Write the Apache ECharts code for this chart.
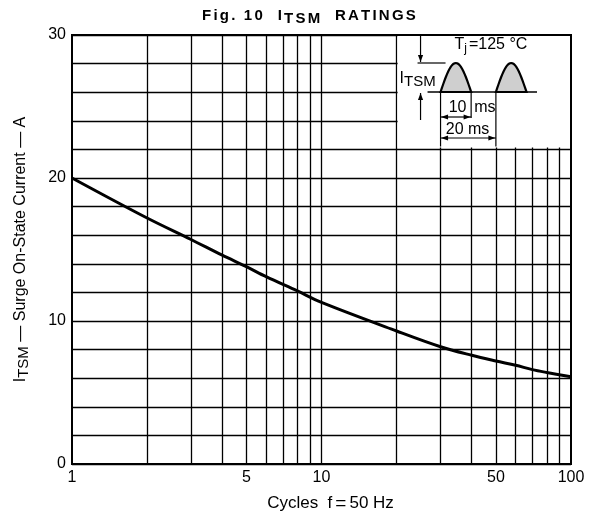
<!DOCTYPE html>
<html><head><meta charset="utf-8">
<script src="https://cdn.jsdelivr.net/npm/echarts@6/dist/echarts.min.js"></script>
<style>html,body{margin:0;padding:0;background:#fff}#c{width:598px;height:518px}</style>
</head><body><div id="c"></div>
<script>
// Data
const cycles  = [1, 2, 3, 4, 5, 6, 8, 10, 20, 30, 40, 50, 60, 70, 80, 100];
const current = [20, 17.2, 15.7, 14.6, 13.8, 13.1, 12.1, 11.3, 9.3, 8.2, 7.6, 7.2, 6.9, 6.6, 6.4, 6.1];
const xGridValues = [2, 3, 4, 5, 6, 7, 8, 9, 10, 20, 30, 40, 50, 60, 70, 80, 90];
const xLabelValues = [1, 5, 10, 50, 100];
const yLabelValues = [0, 10, 20, 30];

const FONT = 'Liberation Sans, Arial, Helvetica, sans-serif';
const chart = echarts.init(document.getElementById('c'));

const option = {
  animation: false,
  backgroundColor: '#fff',
  grid: { left: 72, right: 27, top: 35, bottom: 54, show: true, borderColor: '#000', borderWidth: 2, backgroundColor: 'transparent' },
  xAxis: {
    type: 'log', logBase: 10, min: 1, max: 100,
    name: '{p|Cycles  f}{e|=}{a|50 Hz}', nameLocation: 'middle', nameGap: 30,
    nameTextStyle: { color: '#000', fontFamily: FONT, fontSize: 17,
      rich: { p: { fontSize: 17, fontFamily: FONT, color: '#000', padding: [0, 0, 0, 18] },
              a: { fontSize: 17, fontFamily: FONT, color: '#000' },
              e: { fontSize: 19, fontFamily: FONT, color: '#000', padding: [0, 3, 0, 3] } } },
    axisLine: { show: true, lineStyle: { color: '#000', width: 2 } },
    axisTick: { show: false },
    splitLine: { show: false },
    axisLabel: { customValues: xLabelValues, color: '#000', fontFamily: FONT, fontSize: 16, margin: 6, showMinLabel: true, showMaxLabel: true }
  },
  yAxis: {
    type: 'value', min: 0, max: 30, interval: 2,
    name: '{a|I}{s|TSM}{a| — Surge On-State Current — A}', nameLocation: 'middle', nameGap: 41,
    nameTextStyle: { color: '#000', fontFamily: FONT, fontSize: 16,
      rich: { a: { fontSize: 16, fontFamily: FONT, color: '#000', verticalAlign: 'top', lineHeight: 18 },
              s: { fontSize: 15, fontFamily: FONT, color: '#000', verticalAlign: 'bottom', lineHeight: 18, padding: [6, 0, 0, 0] } } },
    axisLine: { show: true, lineStyle: { color: '#000', width: 2 } },
    axisTick: { show: false },
    splitLine: { show: true, lineStyle: { color: '#000', width: 1.3 } },
    axisLabel: { color: '#000', fontFamily: FONT, fontSize: 16, margin: 6,
      formatter: v => (yLabelValues.indexOf(v) >= 0 ? String(v) : '') }
  },
  series: [
    {
      type: 'line', data: [], z: 1, silent: true,
      markLine: {
        silent: true, symbol: 'none', animation: false,
        label: { show: false },
        lineStyle: { color: '#000', width: 1.3, type: 'solid' },
        emphasis: { disabled: true },
        data: xGridValues.map(v => ({ xAxis: v }))
      }
    },
    {
      type: 'line', z: 5, smooth: 0.35, symbol: 'none',
      lineStyle: { color: '#000', width: 3 },
      data: cycles.map((c, i) => [c, current[i]])
    }
  ]
};
chart.setOption(option);

// Inset diagram positioned from axis values
const P = (x, y) => chart.convertToPixel({ gridIndex: 0 }, [x, y]);
const x20 = P(20, 30)[0], xr = P(100, 30)[0], yTop = P(20, 30)[1], yBox = P(20, 22.2)[1];
const x30 = P(30, 30)[0], x50 = P(50, 30)[0];
const hw = 30.6;               // half-wave width (10 ms)
const base = yTop + 57, peak = yTop + 28;
const ax = x30 - 20;           // ITSM arrows x

function hump(x0) {
  const pts = [];
  for (let i = 0; i <= 24; i++) {
    const t = i / 24;
    pts.push([x0 + t * hw, base - (base - peak) * Math.sin(Math.PI * t)]);
  }
  return pts;
}
function line(x1, y1, x2, y2, w) {
  return { type: 'line', z: 101, shape: { x1, y1, x2, y2 }, style: { stroke: '#000', lineWidth: w || 1.2 } };
}
function head(x, y, dir) { // arrowhead tip at (x,y)
  const L = 7, W = 2.6;
  let pts;
  if (dir === 'down') pts = [[x, y], [x - W, y - L], [x + W, y - L]];
  if (dir === 'up') pts = [[x, y], [x - W, y + L], [x + W, y + L]];
  if (dir === 'left') pts = [[x, y], [x + L, y - W], [x + L, y + W]];
  if (dir === 'right') pts = [[x, y], [x - L, y - W], [x - L, y + W]];
  return { type: 'polygon', z: 102, shape: { points: pts }, style: { fill: '#000' } };
}
function txt(x, y, text, align, extra) {
  return Object.assign({ type: 'text', z: 103, x, y,
    style: Object.assign({ text, fill: '#000', font: '16px ' + FONT, align: align || 'left', verticalAlign: 'middle' }, extra || {}) });
}

// letter-spaced title built as rich fragments
const titleParts = [['Fig. 10', 'a'], ['  ', 'a'], ['I', 'a'], ['TSM', 's'], ['  ', 'a'], ['RATINGS', 'a']];
let titleStr = '';
titleParts.forEach(([s, k]) => { for (const ch of s) titleStr += '{' + k + '|' + ch + '}'; });
const titleRich = {
  a: { font: 'bold 15px ' + FONT, fill: '#000', verticalAlign: 'top', lineHeight: 18, padding: [0, 2.2, 0, 0] },
  s: { font: 'bold 15px ' + FONT, fill: '#000', verticalAlign: 'bottom', lineHeight: 18, padding: [6, 2.2, 0, 0] }
};

const g = [
  { type: 'rect', z: 100, shape: { x: x20 + 1, y: yTop + 1, width: xr - x20 - 2, height: yBox - yTop }, style: { fill: '#fff' } },
  txt(310, 17, titleStr, 'center', { rich: titleRich }),
  // humps
  { type: 'polygon', z: 101, shape: { points: hump(x30) }, style: { fill: '#cfcfcf', stroke: '#000', lineWidth: 2.2 } },
  { type: 'polygon', z: 101, shape: { points: hump(x50) }, style: { fill: '#cfcfcf', stroke: '#000', lineWidth: 2.2 } },
  line(x30 - 13, base, xr - 34, base, 1.6),
  line(ax - 3, peak, ax + 25, peak, 1.2),
  line(ax, yTop, ax, peak - 1, 1.2), head(ax, peak - 1, 'down'),
  line(ax, base + 28, ax, base + 1, 1.2), head(ax, base + 1, 'up'),
  line(x30, base, x30, yBox, 1.2),
  line(x50, base, x50, yBox, 1.2),
  line(x30 + hw, base, x30 + hw, base + 26, 1.2),
  line(x30, base + 25, x30 + hw, base + 25, 1.2), head(x30 + 0.5, base + 25, 'left'), head(x30 + hw - 0.5, base + 25, 'right'),
  line(x30, base + 46, x50, base + 46, 1.2), head(x30 + 0.5, base + 46, 'left'), head(x50 - 0.5, base + 46, 'right'),
  txt(x30 + 17, base + 16, '10', 'center'),
  txt(x30 + hw + 3, base + 16, 'ms', 'left'),
  txt(x30 + 27, base + 38, '20 ms', 'center'),
  txt(x30 + 14, yTop + 11, '{a|T}{s|j}{a|=125 °C}', 'left', {
    rich: { a: { font: '16px ' + FONT, fill: '#000', verticalAlign: 'top', lineHeight: 18 },
            s: { font: '12px ' + FONT, fill: '#000', verticalAlign: 'bottom', lineHeight: 18, padding: [6, 2, 0, 0] } } }),
  txt(x20 + 3, base - 12, '{a|I}{s|TSM}', 'left', {
    rich: { a: { font: '16px ' + FONT, fill: '#000', verticalAlign: 'top', lineHeight: 18 },
            s: { font: '15px ' + FONT, fill: '#000', verticalAlign: 'bottom', lineHeight: 18, padding: [5, 0, 0, 0] } } })
];
chart.setOption({ graphic: { elements: g } });
</script></body></html>
